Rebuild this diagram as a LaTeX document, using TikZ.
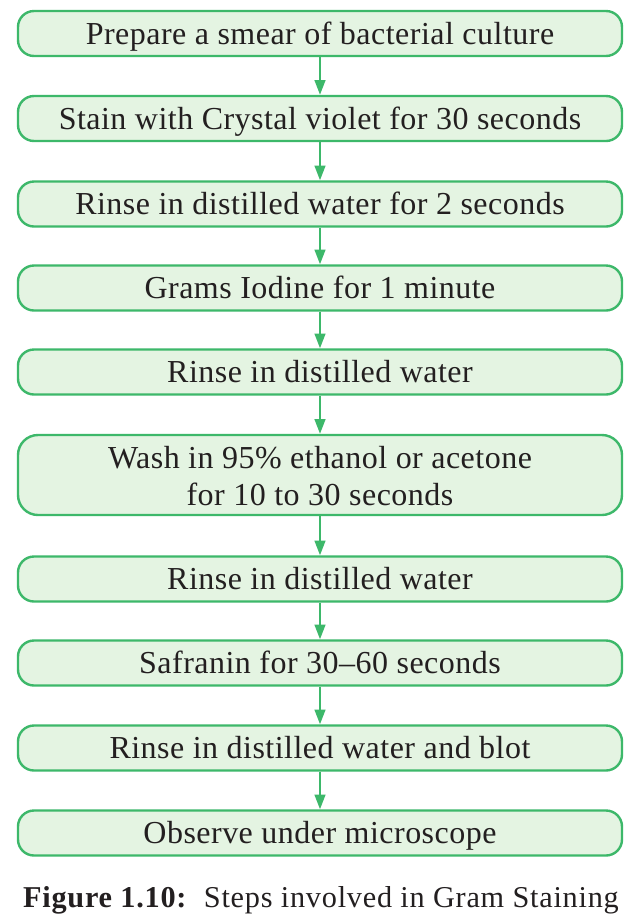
\documentclass[tikz,border=0pt]{standalone}
\usepackage{fontspec}
\setmainfont{Liberation Serif}[LetterSpace=1.5]
\usetikzlibrary{arrows.meta}
\definecolor{boxfill}{HTML}{E4F4E2}
\definecolor{boxline}{HTML}{3DB86A}
\definecolor{txt}{HTML}{231F20}
\tikzset{
  stepbox/.style={draw=boxline, line width=1.8pt, fill=boxfill, rounded corners=12pt,
    minimum width=453pt, minimum height=33.75pt, inner sep=0pt, align=center,
    text=txt, font=\fontsize{24}{27.75}\selectfont, text height=16pt, text depth=0pt},
  tallbox/.style={stepbox, minimum height=60pt, rounded corners=15pt, text height=45.75pt, text depth=0pt},
  flow/.style={draw=boxline, line width=1.6pt, -{Triangle[length=11pt,width=8pt]}}
}
\begin{document}
\begin{tikzpicture}[x=0.75pt,y=-0.75pt]
\useasboundingbox (0,0) rectangle (640,915);
\fill[white] (0,0) rectangle (640,915);
\node[stepbox] (b1) at (320,33.5) {Prepare a smear of bacterial culture};
\node[stepbox] (b2) at (320,118.5) {Stain with Crystal violet for 30 seconds};
\node[stepbox] (b3) at (320,204) {Rinse in distilled water for 2 seconds};
\node[stepbox] (b4) at (320,288) {Grams Iodine for 1 minute};
\node[stepbox] (b5) at (320,372) {Rinse in distilled water};
\node[tallbox] (b6) at (320,475) {Wash in 95\% ethanol or acetone\\for 10 to 30 seconds};
\node[stepbox] (b7) at (320,579) {Rinse in distilled water};
\node[stepbox] (b8) at (320,663) {Safranin for 30–60 seconds};
\node[stepbox] (b9) at (320,748) {Rinse in distilled water and blot};
\node[stepbox] (b10) at (320,833) {Observe under microscope};
\foreach \a/\b in {b1/b2,b2/b3,b3/b4,b4/b5,b5/b6,b6/b7,b7/b8,b8/b9,b9/b10}
  \draw[flow] (\a.south) -- (\b.north);
\node[text=txt, font=\fontsize{22.7}{26}\selectfont\addfontfeature{LetterSpace=2.5}, anchor=base, inner sep=0pt] (cap) at (321,907)
  {\textbf{Figure 1.10:}\ \ Steps involved in Gram Staining};
\end{tikzpicture}
\end{document}
